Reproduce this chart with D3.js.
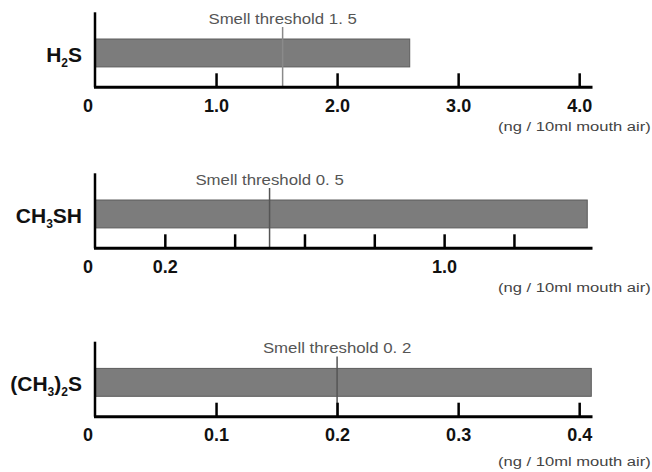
<!DOCTYPE html>
<html>
<head>
<meta charset="utf-8">
<script src="https://cdn.jsdelivr.net/npm/d3@7"></script>
<style>
  body { margin: 0; background: #fff; }
  text { font-family: "Liberation Sans", Arial, sans-serif; }
</style>
</head>
<body>
<div id="chart"></div>
<script>
// data
const compounds = ["H2S", "CH3SH", "(CH3)2S"];
const values = [2.6, 1.41, 0.41];
const thresholds = [1.55, 0.5, 0.2];
const thresholdLabels = ["Smell threshold 1. 5", "Smell threshold 0. 5", "Smell threshold 0. 2"];
const axisMax = [4.11, 1.425, 0.411];
const tickValues = [[1, 2, 3, 4], [0.2, 0.4, 0.6, 0.8, 1.0, 1.2], [0.1, 0.2, 0.3, 0.4]];
const tickLabels = [["1.0", "2.0", "3.0", "4.0"], ["0.2", "", "", "", "1.0", ""], ["0.1", "0.2", "0.3", "0.4"]];
const unitLabel = "(ng / 10ml mouth air)";

const width = 652, height = 472;
const left = 95, right = 592.5;
const baselines = [87.3, 248.3, 416.7];
const unitOffsets = [40, 40, 45];

const svg = d3.select('#chart').append('svg')
  .attr('width', width)
  .attr('height', height);

compounds.forEach(function(name, i) {
  const base = baselines[i];
  const x = d3.scaleLinear().domain([0, axisMax[i]]).range([left, right]);
  const y = d3.scaleBand().domain([name]).range([base - 75, base])
    .paddingInner(0).paddingOuter(0.844).align(0.567);
  const g = svg.append('g');

  // bar
  g.append('rect')
    .attr('x', x(0))
    .attr('y', y(name))
    .attr('width', x(values[i]) - x(0))
    .attr('height', y.bandwidth())
    .attr('fill', '#7c7c7c')
    .attr('stroke', '#5c5c5c')
    .attr('stroke-width', 1);

  // threshold line + label
  g.append('line')
    .attr('x1', x(thresholds[i])).attr('x2', x(thresholds[i]))
    .attr('y1', y(name) - 12).attr('y2', base)
    .attr('stroke', i == 0 ? '#8a8a8a' : '#555')
    .attr('stroke-width', 1.5);

  g.append('text')
    .attr('transform', 'translate(' + x(thresholds[i]) + ',' + (y(name) - 15.5) + ') scale(1.2,1)')
    .attr('text-anchor', 'middle')
    .attr('font-size', 14)
    .attr('fill', '#555')
    .text(thresholdLabels[i]);

  // x axis, ticks pointing up
  const axis = d3.axisBottom(x)
    .tickValues(tickValues[i])
    .tickSize(-14)
    .tickPadding(12)
    .tickFormat((d, j) => tickLabels[i][j]);

  const ax = g.append('g')
    .attr('transform', 'translate(0,' + base + ')')
    .call(axis);
  ax.select('.domain').remove();
  ax.selectAll('.tick line').attr('stroke', '#000').attr('stroke-width', 2.5);
  ax.selectAll('.tick text')
    .attr('font-family', '"Liberation Sans", Arial, sans-serif')
    .attr('font-size', 18)
    .attr('font-weight', 'bold')
    .attr('fill', '#111');

  g.append('text')
    .attr('x', x(0) - 7)
    .attr('y', base + 12)
    .attr('dy', '0.71em')
    .attr('text-anchor', 'middle')
    .attr('font-size', 18)
    .attr('font-weight', 'bold')
    .attr('fill', '#111')
    .text('0');

  // axis lines
  g.append('line')
    .attr('x1', x(0) - 1).attr('x2', right)
    .attr('y1', base).attr('y2', base)
    .attr('stroke', '#000').attr('stroke-width', 3);
  g.append('line')
    .attr('x1', x(0)).attr('x2', x(0))
    .attr('y1', base - 75).attr('y2', base)
    .attr('stroke', '#000').attr('stroke-width', 2.5);

  // compound label with subscripts
  const lab = g.append('text')
    .attr('x', 82)
    .attr('y', y(name) + y.bandwidth() / 2 + 9)
    .attr('text-anchor', 'end')
    .attr('font-size', 21)
    .attr('font-weight', 'bold')
    .attr('fill', '#111');
  let sub = false;
  name.match(/\d+|\D+/g).forEach(function(part) {
    const isNum = /\d/.test(part);
    const t = lab.append('tspan').text(part);
    if (isNum && !sub) { t.attr('dy', 5).attr('font-size', 12); sub = true; }
    else if (!isNum && sub) { t.attr('dy', -5); sub = false; }
  });

  // unit label
  g.append('text')
    .attr('transform', 'translate(498,' + (base + unitOffsets[i] + 4) + ') scale(1.38,1)')
    .attr('font-size', 12)
    .attr('fill', '#444')
    .text(unitLabel);
});
</script>
</body>
</html>
